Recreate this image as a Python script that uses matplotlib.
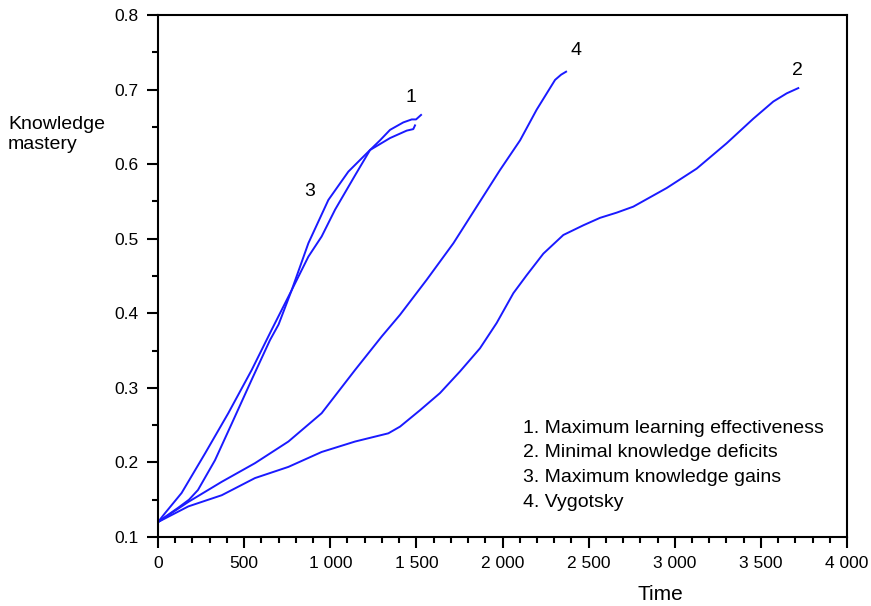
import matplotlib.pyplot as plt
import numpy as np

plt.rcParams['font.family'] = ['Liberation Sans', 'DejaVu Sans']

# curve 1: Maximum learning effectiveness
t1 = [0, 60, 116, 180, 232, 331, 428, 544, 650, 700, 776, 873, 950, 1028, 1144, 1231, 1289, 1347, 1424, 1473, 1498, 1527]
k1 = [0.12, 0.130, 0.139, 0.150, 0.163, 0.203, 0.252, 0.311, 0.364, 0.385, 0.431, 0.476, 0.503, 0.539, 0.585, 0.619, 0.632, 0.646, 0.656, 0.660, 0.660, 0.666]

# curve 2: Minimal knowledge deficits
t2 = [0, 176, 370, 563, 757, 950, 1144, 1337, 1405, 1521, 1637, 1753, 1869, 1966, 2063, 2140, 2237, 2353, 2469, 2566, 2663, 2759, 2953, 3127, 3301, 3456, 3572, 3650, 3717]
k2 = [0.12, 0.141, 0.156, 0.179, 0.194, 0.214, 0.228, 0.239, 0.248, 0.270, 0.293, 0.322, 0.353, 0.387, 0.427, 0.451, 0.480, 0.505, 0.518, 0.528, 0.535, 0.543, 0.568, 0.594, 0.628, 0.661, 0.684, 0.695, 0.702]

# curve 3: Maximum knowledge gains
t3 = [0, 41, 137, 273, 408, 544, 660, 776, 873, 989, 1105, 1231, 1347, 1444, 1482, 1492]
k3 = [0.12, 0.132, 0.159, 0.212, 0.266, 0.324, 0.378, 0.431, 0.494, 0.552, 0.590, 0.619, 0.635, 0.645, 0.647, 0.652]

# curve 4: Vygotsky
t4 = [0, 176, 370, 563, 757, 950, 1144, 1299, 1405, 1560, 1715, 1850, 1985, 2102, 2198, 2305, 2340, 2369]
k4 = [0.12, 0.147, 0.174, 0.199, 0.228, 0.266, 0.324, 0.369, 0.398, 0.445, 0.494, 0.543, 0.592, 0.632, 0.673, 0.713, 0.720, 0.724]

curve_labels = ['1', '2', '3', '4']
label_pos = [(1470, 0.690), (3710, 0.725), (882, 0.563), (2427, 0.753)]
legend_lines = ['1. Maximum learning effectiveness',
                '2. Minimal knowledge deficits',
                '3. Maximum knowledge gains',
                '4. Vygotsky']

x_ticks = [0, 500, 1000, 1500, 2000, 2500, 3000, 3500, 4000]
x_ticklabels = ['0', '500', '1 000', '1 500', '2 000', '2 500', '3 000', '3 500', '4 000']
y_ticks = [0.1, 0.2, 0.3, 0.4, 0.5, 0.6, 0.7, 0.8]
y_ticklabels = ['0.1', '0.2', '0.3', '0.4', '0.5', '0.6', '0.7', '0.8']

fig = plt.figure(figsize=(8.71, 6.06), dpi=100)
ax = fig.add_axes([0.1814, 0.1139, 0.7911, 0.8613])

for t, k in [(t1, k1), (t2, k2), (t3, k3), (t4, k4)]:
    ax.plot(t, k, color='#1a1aff', linewidth=1.4)

for lab, (xx, yy) in zip(curve_labels, label_pos):
    ax.text(xx, yy, lab, fontsize=14, ha='center', va='center', color='black')

# legend text block
ax.text(2120, 0.257, '\n'.join(legend_lines), fontsize=14, ha='left', va='top',
        linespacing=1.58, color='black')

ax.set_xlim(0, 4000)
ax.set_ylim(0.1, 0.8)
ax.set_xticks(x_ticks)
ax.set_xticklabels(x_ticklabels)
ax.set_yticks(y_ticks)
ax.set_yticklabels(y_ticklabels)
ax.set_xticks(np.arange(0, 4001, 100), minor=True)
ax.set_yticks(np.arange(0.1, 0.801, 0.05), minor=True)
ax.tick_params(which='major', direction='out', length=8, width=1.5, labelsize=12.5, pad=6)
ax.tick_params(which='minor', direction='out', length=4, width=1.5)
for s in ax.spines.values():
    s.set_linewidth(1.5)

fig.text(8 / 871, 1 - 116 / 606, 'Knowledge\nmastery', fontsize=14, ha='left', va='top')
fig.text(660 / 871, 1 - 594 / 606, 'Time', fontsize=15, ha='center', va='center')

fig.savefig('out.png', dpi=100)
